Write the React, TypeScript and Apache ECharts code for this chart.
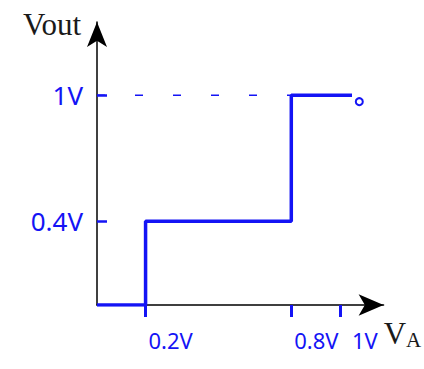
import React, { useEffect, useRef } from "react";
import * as echarts from "echarts";

// Transfer characteristic: Vout against VA
const vaPoints = [0, 0.2, 0.2, 0.8, 0.8, 1.05];
const voutPoints = [0, 0, 0.4, 0.4, 1, 1];
const vaTicks = [0.2, 0.8, 1];
const voutTicks = [0.4, 1];
const guideVa = [0, 0.8];
const guideVout = [1, 1];
const endMark = [1.08, 0.97];

const PEN = "#1414f5";
const HAND = "'Noto Sans', 'DejaVu Sans', sans-serif";
const SERIF = "'Liberation Serif', 'DejaVu Serif', serif";

export default function App() {
  const ref = useRef<HTMLDivElement>(null);

  useEffect(() => {
    if (!ref.current) return;
    const chart = echarts.init(ref.current, null, { renderer: "svg" });
    chart.setOption({
      animation: false,
      backgroundColor: "#ffffff",
      grid: { left: 97, right: 39, top: 22, bottom: 64 },
      xAxis: {
        type: "value",
        min: 0,
        max: 1.18,
        name: "{v|V}{a|A}",
        nameLocation: "end",
        nameGap: -8,
        nameTextStyle: {
          verticalAlign: "top",
          align: "left",
          padding: [12, 0, 0, 0],
          rich: {
            v: { fontFamily: SERIF, fontSize: 31, color: "#1a1a1a" },
            a: { fontFamily: SERIF, fontSize: 21, color: "#1a1a1a", padding: [12, 0, 0, 0] },
          },
        },
        axisLine: {
          show: true,
          onZero: false,
          symbol: ["none", "arrow"],
          symbolSize: [16, 25],
          lineStyle: { color: "#000", width: 1.5 },
        },
        axisTick: {
          show: true,
          customValues: vaTicks,
          length: 12,
          lineStyle: { color: PEN, width: 3 },
        },
        axisLabel: {
          customValues: vaTicks,
          formatter: (v: number) => `${v}V`,
          color: PEN,
          fontFamily: HAND,
          fontSize: 22,
          margin: 24,
          align: "center",
          padding: [0, 0, 0, 50],
        },
        splitLine: { show: false },
      },
      yAxis: {
        type: "value",
        min: 0,
        max: 1.35,
        name: "Vout",
        nameLocation: "end",
        nameGap: -2,
        nameTextStyle: {
          fontFamily: SERIF,
          fontSize: 31,
          color: "#1a1a1a",
          align: "right",
          verticalAlign: "middle",
          padding: [0, 16, 0, 0],
        },
        axisLine: {
          show: true,
          onZero: false,
          symbol: ["none", "arrow"],
          symbolSize: [15, 25],
          lineStyle: { color: "#000", width: 1.5 },
        },
        axisTick: {
          show: true,
          inside: true,
          customValues: voutTicks,
          length: 10,
          lineStyle: { color: PEN, width: 2.5 },
        },
        axisLabel: {
          customValues: voutTicks,
          formatter: (v: number) => `${v}V`,
          color: PEN,
          fontFamily: HAND,
          fontSize: 26,
          margin: 14,
        },
        splitLine: { show: false },
      },
      series: [
        {
          type: "line",
          data: guideVa.map((x, i) => [x, guideVout[i]]),
          symbol: "none",
          lineStyle: { color: PEN, width: 1.5, type: [8, 30] },
          z: 2,
        },
        {
          type: "line",
          data: vaPoints.map((x, i) => [x, voutPoints[i]]),
          symbol: "none",
          lineStyle: { color: PEN, width: 3.5 },
          z: 3,
        },
        {
          type: "scatter",
          data: [endMark],
          symbol: "circle",
          symbolSize: 7,
          itemStyle: { color: "#ffffff", borderColor: PEN, borderWidth: 2, opacity: 1 },
          z: 4,
        },
      ],
    });
    return () => chart.dispose();
  }, []);

  return (
    <div
      ref={ref}
      style={{ position: "fixed", left: 0, top: 0, width: 424, height: 369 }}
    />
  );
}
